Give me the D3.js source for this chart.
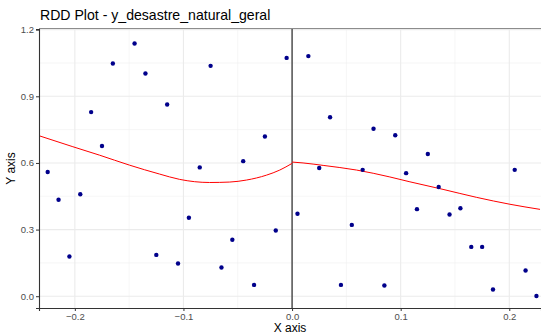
<!DOCTYPE html>
<html>
<head>
<meta charset="utf-8">
<script src="https://cdn.jsdelivr.net/npm/d3@7"></script>
<style>
  body { margin: 0; background: #fff; }
  svg { display: block; font-family: "Liberation Sans", Arial, sans-serif; }
</style>
</head>
<body>
<div id="chart"></div>
<script>
// binned means (x = running variable bin centre, y = mean outcome)
var binX = [-0.225, -0.215, -0.205, -0.195, -0.185, -0.175, -0.165, -0.145, -0.135, -0.125,
            -0.115, -0.105, -0.095, -0.085, -0.075, -0.065, -0.055, -0.045, -0.035, -0.025,
            -0.015, -0.005, 0.005, 0.015, 0.025, 0.035, 0.045, 0.055, 0.065, 0.075,
            0.085, 0.095, 0.105, 0.115, 0.125, 0.135, 0.145, 0.155, 0.165, 0.175,
            0.185, 0.205, 0.215, 0.225];
var binY = [0.559, 0.434, 0.179, 0.459, 0.829, 0.676, 1.048, 1.138, 1.003, 0.186,
            0.863, 0.147, 0.353, 0.580, 1.037, 0.129, 0.254, 0.608, 0.051, 0.719,
            0.296, 1.073, 0.371, 1.081, 0.577, 0.806, 0.051, 0.321, 0.569, 0.754,
            0.048, 0.725, 0.554, 0.392, 0.640, 0.492, 0.368, 0.396, 0.222, 0.222,
            0.030, 0.569, 0.116, 0.001];

// fitted curve, left and right of the cutoff
var fitLeftX = [-0.2326, -0.2018, -0.1772, -0.1496, -0.122, -0.1035, -0.0759, -0.0574, -0.042, -0.0236, -0.0113, 0];
var fitLeftY = [0.722, 0.673, 0.635, 0.590, 0.550, 0.526, 0.512, 0.514, 0.523, 0.545, 0.568, 0.598];
var fitRightX = [0, 0.0101, 0.0286, 0.0594, 0.090, 0.1085, 0.139, 0.170, 0.2006, 0.2283];
var fitRightY = [0.604, 0.600, 0.589, 0.568, 0.537, 0.515, 0.481, 0.445, 0.414, 0.391];

var xTicks = [-0.2, -0.1, 0.0, 0.1, 0.2];
var yTicks = [0.0, 0.3, 0.6, 0.9, 1.2];
var xMinor = [-0.15, -0.05, 0.05, 0.15];
var yMinor = [0.15, 0.45, 0.75, 1.05];

var W = 541, H = 336;
var panel = {left: 39, top: 29, right: 541, bottom: 308};

var svg = d3.select("#chart").append("svg")
    .attr("width", W).attr("height", H);

var x = d3.scaleLinear().domain([-0.233, 0.2292]).range([panel.left, panel.right]);
var y = d3.scaleLinear().domain([-0.053, 1.203]).range([panel.bottom, panel.top]);

svg.append("defs").append("clipPath").attr("id", "clip")
  .append("rect")
    .attr("x", panel.left).attr("y", panel.top)
    .attr("width", panel.right - panel.left).attr("height", panel.bottom - panel.top);

// grid
var grid = svg.append("g");
grid.selectAll(".vminor").data(xMinor).enter().append("line")
    .attr("x1", d => x(d)).attr("x2", d => x(d))
    .attr("y1", panel.top).attr("y2", panel.bottom)
    .attr("stroke", "#f0f0f0").attr("stroke-width", 0.6);
grid.selectAll(".hminor").data(yMinor).enter().append("line")
    .attr("x1", panel.left).attr("x2", panel.right)
    .attr("y1", d => y(d)).attr("y2", d => y(d))
    .attr("stroke", "#f0f0f0").attr("stroke-width", 0.6);
grid.selectAll(".vmajor").data(xTicks).enter().append("line")
    .attr("x1", d => x(d)).attr("x2", d => x(d))
    .attr("y1", panel.top).attr("y2", panel.bottom)
    .attr("stroke", "#ebebeb").attr("stroke-width", 1.1);
grid.selectAll(".hmajor").data(yTicks).enter().append("line")
    .attr("x1", panel.left).attr("x2", panel.right)
    .attr("y1", d => y(d)).attr("y2", d => y(d))
    .attr("stroke", "#ebebeb").attr("stroke-width", 1.1);

// top border
svg.append("line")
    .attr("x1", panel.left).attr("x2", panel.right)
    .attr("y1", panel.top - 0.5).attr("y2", panel.top - 0.5)
    .attr("stroke", "#8c8c8c").attr("stroke-width", 1);

// cutoff line
svg.append("line")
    .attr("x1", x(0)).attr("x2", x(0))
    .attr("y1", panel.top).attr("y2", panel.bottom)
    .attr("stroke", "#000").attr("stroke-width", 1);

// fitted lines
var line = d3.line().curve(d3.curveMonotoneX)
    .x(d => x(d[0])).y(d => y(d[1]));
var fits = svg.append("g").attr("clip-path", "url(#clip)");
fits.append("path")
    .datum(d3.zip(fitLeftX, fitLeftY))
    .attr("d", line).attr("fill", "none")
    .attr("stroke", "#ff0000").attr("stroke-width", 1);
fits.append("path")
    .datum(d3.zip(fitRightX, fitRightY))
    .attr("d", line).attr("fill", "none")
    .attr("stroke", "#ff0000").attr("stroke-width", 1);

// points
svg.append("g").selectAll("circle")
    .data(d3.zip(binX, binY))
    .enter().append("circle")
    .attr("cx", d => x(d[0])).attr("cy", d => y(d[1]))
    .attr("r", 2.2).attr("fill", "#00008b");

// axes
var xAxis = svg.append("g")
    .attr("transform", `translate(0, ${panel.bottom})`)
    .call(d3.axisBottom(x).tickValues(xTicks).tickFormat(d3.format(".1f")).tickSizeOuter(0).tickSize(3).tickPadding(2));
var yAxis = svg.append("g")
    .attr("transform", `translate(${panel.left}, 0)`)
    .call(d3.axisLeft(y).tickValues(yTicks).tickFormat(d3.format(".1f")).tickSizeOuter(0).tickSize(3).tickPadding(2));

[xAxis, yAxis].forEach(function (a) {
    a.select(".domain").attr("stroke", "#333333").attr("stroke-width", 1.1);
    a.selectAll(".tick line").attr("stroke", "#333333");
    a.selectAll(".tick text").attr("fill", "#4d4d4d").style("font-size", "9.5px")
        .style("font-family", '"Liberation Sans", Arial, sans-serif');
});

// titles
svg.append("text")
    .attr("x", panel.left + 1).attr("y", 19.5)
    .text("RDD Plot - y_desastre_natural_geral")
    .style("font-size", "14.1px").attr("fill", "#000");

svg.append("text")
    .attr("x", (panel.left + panel.right) / 2).attr("y", 332)
    .attr("text-anchor", "middle")
    .text("X axis")
    .style("font-size", "12px").attr("fill", "#000");

svg.append("text")
    .attr("transform", `translate(15, ${(panel.top + panel.bottom) / 2}) rotate(-90)`)
    .attr("text-anchor", "middle")
    .text("Y axis")
    .style("font-size", "12px").attr("fill", "#000");
</script>
</body>
</html>
